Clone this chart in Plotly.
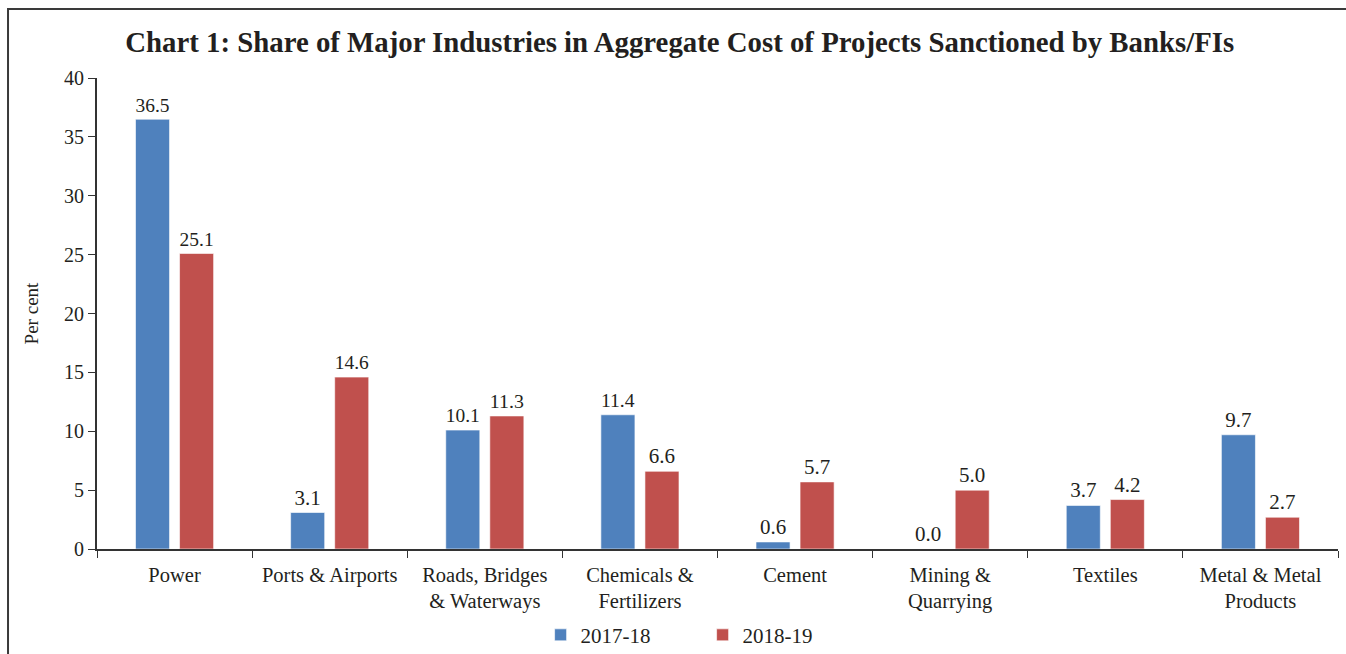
import plotly.graph_objects as go

categories = ["Power", "Ports & Airports", "Roads, Bridges<br>& Waterways",
              "Chemicals &<br>Fertilizers", "Cement", "Mining &<br>Quarrying",
              "Textiles", "Metal & Metal<br>Products"]
share_2017_18 = [36.5, 3.1, 10.1, 11.4, 0.6, 0.0, 3.7, 9.7]
share_2018_19 = [25.1, 14.6, 11.3, 6.6, 5.7, 5.0, 4.2, 2.7]
y_ticks = [0, 5, 10, 15, 20, 25, 30, 35, 40]

FONT = "Liberation Serif"
TXT = "#231f20"

fig = go.Figure()
for name, vals, col in [("2017-18", share_2017_18, "#4f81bd"),
                        ("2018-19", share_2018_19, "#c0504d")]:
    fig.add_trace(go.Bar(
        name=name, x=categories, y=vals,
        marker=dict(color=col, line=dict(color="rgba(255,255,255,0.6)", width=1)),
        texttemplate="%{y:.1f}", textposition="outside",
        textfont=dict(family=FONT, size=21, color=TXT),
        cliponaxis=False,
    ))

fig.update_layout(
    width=1346, height=654,
    margin=dict(l=97, r=8, t=78, b=105, autoexpand=False),
    paper_bgcolor="white", plot_bgcolor="white",
    barmode="group", bargap=0.432, bargroupgap=0.227,
    font=dict(family=FONT, color=TXT, size=21),
    title=dict(text="<b>Chart 1: Share of Major Industries in Aggregate Cost of Projects Sanctioned by Banks/FIs</b>",
               x=0.505, xanchor="center", y=0.936, yanchor="middle",
               font=dict(family=FONT, size=28.8, color=TXT)),
    showlegend=True,
    legend=dict(orientation="h", x=0.488, xanchor="center", y=-0.183, yanchor="middle",
                font=dict(family=FONT, size=21, color=TXT),
                entrywidth=117, itemwidth=30, traceorder="normal"),
    shapes=[dict(type="rect", xref="paper", yref="paper",
                 x0=-0.0717, x1=1.2, y0=-0.5, y1=1.1465,
                 line=dict(color="#3a3a3a", width=2), layer="above")],
)

fig.update_xaxes(
    type="category", tickson="boundaries", ticks="outside", ticklen=7,
    tickcolor="#333", showline=True, linecolor="#333", linewidth=2,
    showgrid=False, tickfont=dict(family=FONT, size=20.5, color=TXT),
    ticklabelstandoff=6, automargin=False,
)
fig.update_yaxes(
    range=[0, 40], tickvals=y_ticks, ticks="outside", ticklen=7,
    tickcolor="#333", showline=True, linecolor="#333", linewidth=2,
    showgrid=False, zeroline=False, tickfont=dict(family=FONT, size=20, color=TXT),
    title=dict(text="Per cent", font=dict(family=FONT, size=19, color=TXT), standoff=20),
    automargin=False,
)

fig.write_html("out.html")
